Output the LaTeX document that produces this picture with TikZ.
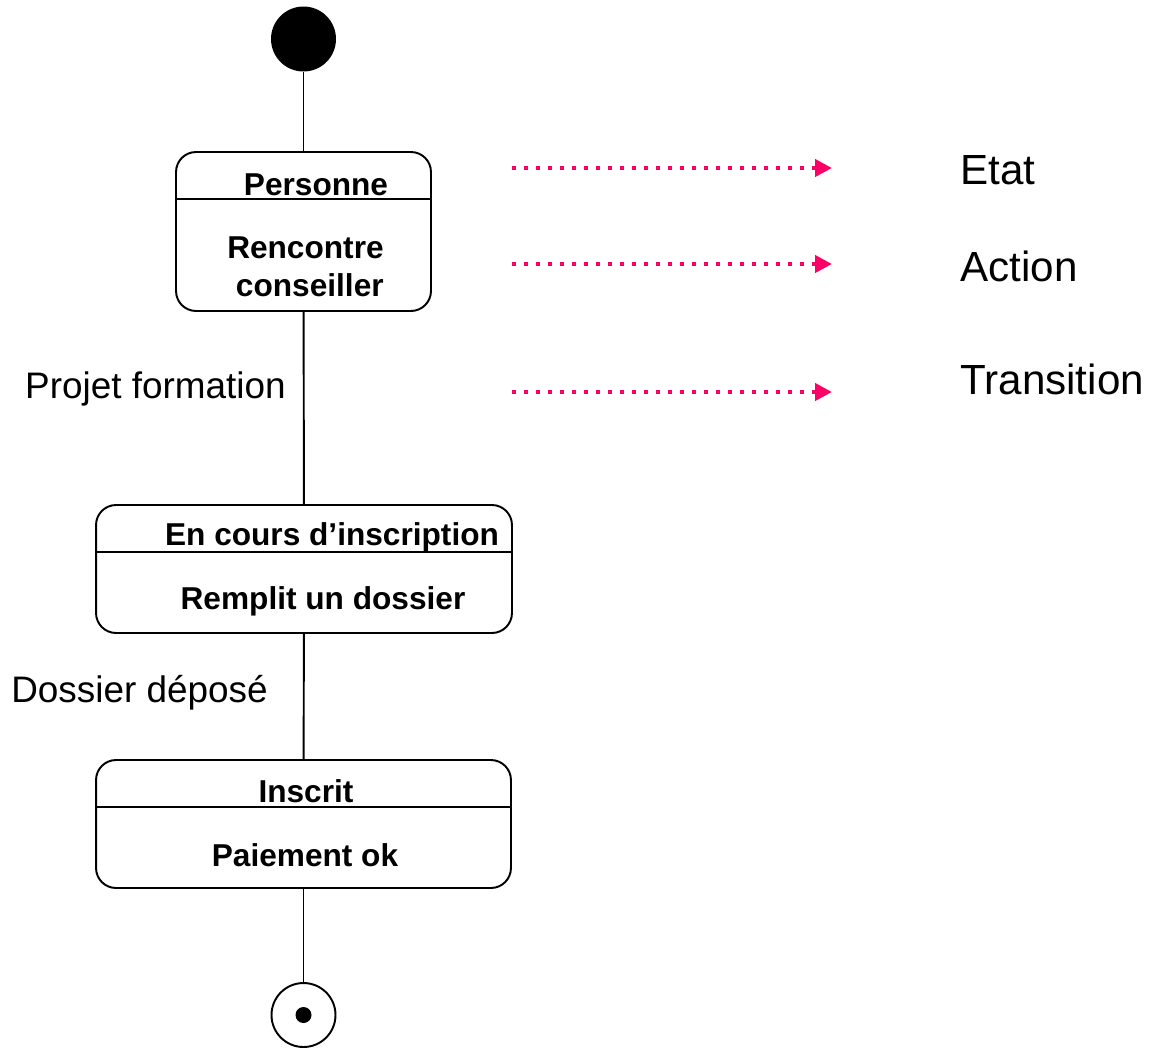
\documentclass[tikz,border=0pt]{standalone}
\usepackage{fontspec}
\setmainfont{Liberation Sans}
\usetikzlibrary{arrows.meta}
\definecolor{legendpink}{HTML}{FF0066}
\begin{document}
\begin{tikzpicture}[x=0.02cm,y=-0.02cm,
    statebox/.style={draw,line width=1.1pt,rounded corners=0.4cm,inner sep=0pt},
    statetext/.style={font=\bfseries\fontsize{18}{21.6}\selectfont,align=center,inner sep=0pt},
    translabel/.style={font=\fontsize{21}{25}\selectfont,anchor=east,inner sep=0pt},
    legendlabel/.style={font=\fontsize{24}{29}\selectfont,anchor=west,inner sep=0pt},
    legendarrow/.style={legendpink,line width=0.085cm,dash pattern=on 0.085cm off 0.155cm,
        -{Triangle[length=0.34cm,width=0.34cm]}}]
\useasboundingbox (0,0) rectangle (1159,1048);

% Initial and final states
\node[circle,fill=black,minimum size=1.3cm,inner sep=0pt] (start) at (303.5,39) {};
\node[circle,draw,line width=1.1pt,minimum size=1.28cm,inner sep=0pt] (stop) at (303.5,1015) {};
\node[circle,fill=black,minimum size=0.32cm,inner sep=0pt] at (stop) {};

% States
\node[statebox,minimum width=5.1cm,minimum height=3.18cm] (personne) at (303.5,231.5) {};
\draw[line width=1.1pt] (personne.west |- 0,199) -- (personne.east |- 0,199);
\node[statetext] (personneT) at (316,184.5) {Personne};
\node[statetext,align=right,anchor=east] (personneA) at (384,266.5) {Rencontre\\conseiller};

\node[statebox,minimum width=8.32cm,minimum height=2.56cm] (encours) at (304,569) {};
\draw[line width=1.1pt] (encours.west |- 0,552) -- (encours.east |- 0,552);
\node[statetext] (encoursT) at (332,537.5) {En cours d’inscription};
\node[statetext] (encoursA) at (323,601.5) {Remplit un dossier};

\node[statebox,minimum width=8.3cm,minimum height=2.56cm] (inscrit) at (303.5,824) {};
\draw[line width=1.1pt] (inscrit.west |- 0,807) -- (inscrit.east |- 0,807);
\node[statetext] (inscritT) at (306,791) {Inscrit};
\node[statetext] (inscritA) at (305,855) {Paiement ok};

% Transitions
\draw[line width=1.1pt] (start) -- (personne);
\draw[line width=1.1pt] (personne) -- (encours);
\draw[line width=1.1pt] (encours) -- (inscrit);
\draw[line width=1.1pt] (inscrit) -- (stop);
\node[translabel] (projet) at (286,389) {Projet formation};
\node[translabel] (depose) at (268,693) {Dossier déposé};

% Legend
\foreach \name/\y in {etat/168,action/264,transition/392} {
    \coordinate (\name A) at (512,\y);
    \coordinate (\name B) at (832,\y);
    \draw[legendarrow] (\name A) -- (\name B);
}
\node[legendlabel] (etat) at (960,170) {Etat};
\node[legendlabel] (action) at (960,266) {Action};
\node[legendlabel] (transition) at (960,379) {Transition};

\end{tikzpicture}
\end{document}
